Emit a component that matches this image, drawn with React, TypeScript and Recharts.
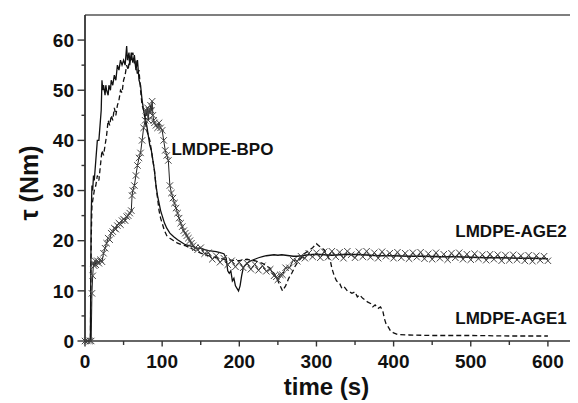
import { LineChart, Line, XAxis, YAxis, ReferenceLine, ReferenceDot } from 'recharts';

// torque traces: [time (s), torque (Nm)]
const solidCurve: [number, number][] = [
  [0, 0], [5, 0], [7, 0], [8, 25], [9, 31], [10, 30], [11, 33], [12, 32], [14, 36], [16, 40], [18, 40],
  [19, 42], [21, 46], [22, 52], [23, 50], [24, 51], [26, 49], [27, 51], [28, 50], [30, 49], [31, 51],
  [33, 50], [34, 52], [36, 51], [38, 53], [40, 52], [42, 55], [44, 54], [46, 56], [48, 55], [50, 56],
  [52, 55], [54, 58.8], [55, 56], [57, 57.5], [58, 55], [60, 57.5], [62, 55.5], [64, 57], [66, 54],
  [68, 56], [70, 52], [72, 51], [74, 48], [76, 46], [78, 44.5], [80, 43], [82, 41], [84, 39], [86, 38],
  [88, 36], [90, 34], [92, 31], [94, 29], [96, 27.5], [98, 26], [100, 25], [103, 23.5], [106, 22.5],
  [110, 21.5], [115, 20.8], [120, 20.2], [125, 19.7], [130, 19.2], [135, 19], [140, 18.8], [145, 18.5],
  [150, 18.5], [155, 18.2], [160, 18], [165, 17.9], [170, 17.8], [175, 17.6], [180, 17.4], [183, 16.5],
  [185, 14], [187, 13.5], [189, 14], [191, 12], [193, 12.5], [195, 11], [197, 10.5], [199, 10], [201, 11],
  [203, 13], [205, 14.5], [207, 15], [210, 15.5], [215, 16], [220, 16.3], [225, 16.6], [230, 16.8],
  [235, 17], [240, 17.1], [245, 17.2], [250, 17.1], [255, 17.2], [260, 17.1], [265, 17], [270, 16.9],
  [275, 16.9], [280, 17], [285, 17.1], [290, 17.2], [300, 17.3], [320, 17.1], [340, 17.3], [360, 17.2],
  [380, 17.0], [400, 17.0], [420, 16.9], [440, 16.9], [460, 16.8], [480, 16.8], [500, 16.7], [520, 16.6],
  [540, 16.6], [560, 16.5], [580, 16.5], [600, 16.4],
];

const dashedCurve: [number, number][] = [
  [0, 0], [7, 0], [8, 20], [9, 27], [10, 28], [12, 30], [14, 31], [16, 33], [18, 32], [20, 35], [22, 38],
  [24, 37], [26, 39], [28, 41], [30, 44], [32, 43], [34, 45], [36, 44], [38, 46.5], [40, 45], [42, 47],
  [44, 48], [46, 50], [48, 49.5], [50, 52], [52, 53], [54, 55], [56, 54], [58, 57], [60, 56], [62, 57.5],
  [64, 55.5], [66, 56], [68, 53], [70, 54], [72, 50], [74, 47], [76, 46], [78, 44], [80, 42], [82, 41],
  [84, 40], [86, 38], [88, 36], [90, 34], [92, 31], [94, 28.5], [96, 26], [98, 24.5], [100, 23.5],
  [103, 22], [106, 21], [110, 20.5], [115, 20], [120, 19.5], [125, 19.2], [130, 19], [140, 18.3],
  [150, 17.5], [160, 17], [170, 16.6], [180, 16.3], [190, 16.1], [200, 16], [210, 16.3], [220, 16],
  [230, 15.5], [240, 14.5], [245, 13.5], [250, 12], [253, 11], [256, 10], [260, 11], [264, 12.5],
  [268, 13.5], [272, 14.8], [276, 15.8], [280, 16.5], [285, 17.5], [290, 18], [295, 18.6], [300, 19.4],
  [303, 19], [306, 18.6], [310, 18.2], [314, 17], [318, 16], [320, 14.5], [323, 13], [326, 12],
  [330, 11.5], [333, 10.5], [336, 10.8], [340, 10], [343, 9.8], [346, 9.5], [350, 9.8], [353, 8.8],
  [356, 9.2], [360, 8.5], [363, 8.2], [366, 7.8], [370, 7.5], [373, 6.8], [376, 7.2], [380, 6.5],
  [383, 6.8], [386, 6], [388, 4.5], [390, 3.5], [393, 2.8], [396, 2], [400, 1.6], [405, 1.3], [420, 1.2],
  [450, 1.1], [500, 1.1], [550, 1.0], [600, 1.0],
];

const crossCurve: [number, number][] = [
  [0, 0], [3, 0], [6, 0], [8, 0], [9, 9.5], [10, 13], [11, 15.5], [12, 15], [13, 16], [14, 15.2], [16, 16],
  [18, 15.5], [20, 16.2], [22, 15.8], [24, 17.5], [26, 18.5], [28, 19.5], [30, 20.5], [32, 20.2],
  [34, 21.5], [36, 21.8], [38, 22.5], [40, 22.3], [42, 23], [44, 23.5], [46, 23.2], [48, 24], [50, 24.3],
  [52, 24], [54, 24.8], [56, 25], [58, 25.5], [60, 26], [61, 29], [62, 30], [64, 31], [66, 33], [68, 35],
  [70, 36.5], [72, 37.5], [74, 40], [76, 42.5], [78, 44], [79, 46], [80, 45], [81, 46.5], [82, 44],
  [83, 46], [84, 45.5], [85, 47], [86, 46], [87, 47.8], [88, 45], [89, 44], [90, 43.5], [92, 43],
  [94, 42.5], [96, 43.5], [98, 42.5], [100, 42], [102, 40], [104, 38], [106, 37], [108, 36], [110, 31],
  [112, 29.5], [114, 28.5], [116, 27.5], [118, 26.5], [120, 25.5], [122, 24.5], [124, 23.5], [126, 22.8],
  [128, 22], [130, 21.5], [132, 21], [134, 20.5], [136, 20], [138, 19.5], [140, 19], [143, 18.6],
  [146, 18.2], [150, 18.6], [155, 17.4], [160, 17.6], [165, 16.3], [170, 17.0], [175, 15.7], [180, 16.5],
  [185, 15.2], [190, 16.0], [195, 14.8], [200, 15.7], [205, 14.6], [210, 15.5], [215, 14.3], [220, 15.3],
  [225, 14.1], [230, 15.0], [235, 13.9], [240, 14.3], [245, 13.0], [248, 12.8], [250, 12.2], [253, 13.2],
  [256, 13.2], [260, 14.6], [265, 14.6], [270, 16.1], [275, 15.9], [280, 16.9], [285, 16.5], [290, 17.5],
  [295, 16.8], [300, 17.6], [305, 16.6], [310, 17.8], [315, 16.7], [320, 17.9], [325, 16.8], [330, 17.7],
  [335, 16.5], [340, 17.9], [345, 17.2], [350, 16.6], [355, 17.8], [360, 16.8], [365, 17.9], [370, 16.7],
  [375, 17.6], [380, 16.5], [385, 17.8], [390, 16.9], [395, 17.5], [400, 16.5], [405, 17.7], [410, 16.6],
  [415, 17.5], [420, 16.4], [425, 17.6], [430, 16.7], [435, 17.7], [440, 16.4], [445, 17.4], [450, 16.3],
  [455, 17.6], [460, 16.5], [465, 17.3], [470, 16.2], [475, 17.5], [480, 16.6], [485, 17.6], [490, 16.3],
  [495, 17.3], [500, 16.2], [505, 17.4], [510, 16.4], [515, 17.2], [520, 16.1], [525, 17.3], [530, 16.3],
  [535, 17.2], [540, 16.0], [545, 17.1], [550, 16.1], [555, 17.2], [560, 16.2], [565, 17.0], [570, 16.0],
  [575, 17.1], [580, 15.9], [585, 17.0], [590, 16.1], [595, 16.9], [600, 16.0],
];

const xTicks = [0, 50, 100, 150, 200, 250, 300, 350, 400, 450, 500, 550, 600];
const yTicks = [0, 5, 10, 15, 20, 25, 30, 35, 40, 45, 50, 55, 60];

// curve labels: [text, time, torque] at the left/middle of the text
const curveLabels: [string, number, number][] = [
  ['LMDPE-BPO', 112, 38.3],
  ['LMDPE-AGE2', 480, 21.9],
  ['LMDPE-AGE1', 480, 4.6],
];

const FONT = '"Liberation Sans", Arial, sans-serif';
const AXIS = '#333';

const toRows = (pts: [number, number][]) => pts.map(([t, v]) => ({ t, v }));

const XTick = ({ x, y, payload }: any) => {
  const major = payload.value % 100 === 0;
  return (
    <g>
      <line x1={x} y1={y} x2={x} y2={y + (major ? 5.5 : 4)} stroke={AXIS} strokeWidth={1.4} />
      {major && (
        <text x={x} y={y + 27} textAnchor="middle" fontFamily={FONT} fontWeight="bold" fontSize={19} fill="#111">
          {payload.value}
        </text>
      )}
    </g>
  );
};

const YTick = ({ x, y, payload }: any) => {
  const major = payload.value % 10 === 0;
  return (
    <g>
      <line x1={x - (major ? 7.5 : 3.5)} y1={y} x2={x} y2={y} stroke={AXIS} strokeWidth={1.4} />
      {major && (
        <text x={x - 11} y={y + 6.7} textAnchor="end" fontFamily={FONT} fontWeight="bold" fontSize={19} fill="#111">
          {payload.value}
        </text>
      )}
    </g>
  );
};

const CrossDot = (props: any) => {
  const { cx, cy, index } = props;
  if (cx == null || cy == null) return <g key={index} />;
  const s = 3.2;
  return (
    <path
      key={index}
      d={`M${cx - s},${cy - s}L${cx + s},${cy + s}M${cx + s},${cy - s}L${cx - s},${cy + s}`}
      stroke="#444"
      strokeWidth={1}
      fill="none"
    />
  );
};

export default function App() {
  return (
    <LineChart width={570} height={395} margin={{ top: 7, right: 0, bottom: 0, left: 0 }}>
      <XAxis
        type="number"
        dataKey="t"
        domain={[0, 639]}
        ticks={xTicks}
        interval={0}
        height={62}
        tickSize={0}
        tickMargin={0}
        tickLine={false}
        tick={<XTick />}
        axisLine={{ stroke: AXIS, strokeWidth: 1.6 }}
        label={({ viewBox }: any) => (
          <text
            x={viewBox.x + viewBox.width / 2 - 5}
            y={387}
            textAnchor="middle"
            fontFamily={FONT}
            fontWeight="bold"
            fontSize={24}
            fill="#111"
          >
            time (s)
          </text>
        )}
      />
      <YAxis
        type="number"
        domain={[0, 65]}
        ticks={yTicks}
        interval={0}
        width={77}
        tickSize={0}
        tickMargin={0}
        tickLine={false}
        tick={<YTick />}
        axisLine={{ stroke: AXIS, strokeWidth: 1.8 }}
        label={() => (
          <text
            x={29.5}
            y={175}
            transform="rotate(-90 29.5 175)"
            textAnchor="middle"
            fontFamily={FONT}
            fontWeight="bold"
            fontSize={25}
            fill="#111"
          >
            τ (Nm)
          </text>
        )}
      />
      <ReferenceLine y={65} stroke="#555" strokeWidth={1.3} />
      <Line
        data={toRows(crossCurve)}
        dataKey="v"
        stroke="#222"
        strokeWidth={1}
        dot={CrossDot}
        activeDot={false}
        isAnimationActive={false}
      />
      <Line
        data={toRows(dashedCurve)}
        dataKey="v"
        stroke="#111"
        strokeWidth={1.3}
        strokeDasharray="5 3"
        dot={false}
        activeDot={false}
        isAnimationActive={false}
      />
      <Line
        data={toRows(solidCurve)}
        dataKey="v"
        stroke="#111"
        strokeWidth={1.3}
        dot={false}
        activeDot={false}
        isAnimationActive={false}
      />
      {curveLabels.map(([name, t, v]) => (
        <ReferenceDot
          key={name}
          x={t}
          y={v}
          r={0}
          fill="none"
          stroke="none"
          label={({ viewBox }: any) => (
            <text
              x={viewBox.x}
              y={viewBox.y}
              dy={6}
              textAnchor="start"
              fontFamily={FONT}
              fontWeight="bold"
              fontSize={17}
              fill="#111"
            >
              {name}
            </text>
          )}
        />
      ))}
    </LineChart>
  );
}
